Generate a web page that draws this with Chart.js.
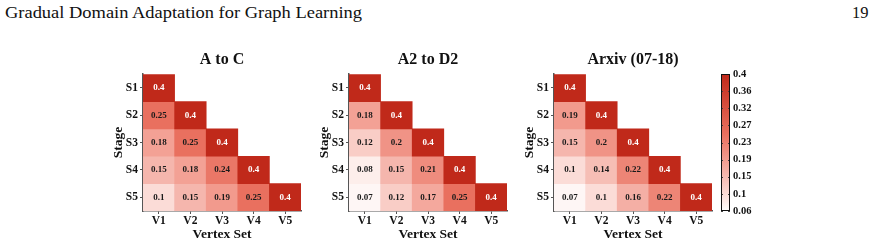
<!DOCTYPE html>
<html>
<head>
<meta charset="utf-8">
<script src="https://cdn.jsdelivr.net/npm/chart.js@4.4.0/dist/chart.umd.min.js"></script>
<style>
  html, body { margin: 0; padding: 0; background: #fff; }
  body { width: 869px; height: 246px; position: relative; overflow: hidden; font-family: 'Liberation Serif', 'Times New Roman', serif; }
  .box { position: absolute; top: 40px; width: 244px; height: 206px; }
  #header { position: absolute; left: 5px; top: 3px; font-size: 16.5px; color: #111; white-space: nowrap; transform-origin: 0 0; }
  #page { position: absolute; left: 852px; top: 3px; font-size: 16.5px; color: #111; }
</style>
</head>
<body>
<div id="header">Gradual Domain Adaptation for Graph Learning</div>
<div id="page">19</div>
<div class="box" style="left:100px"><canvas id="c1"></canvas></div>
<div class="box" style="left:306px"><canvas id="c2"></canvas></div>
<div class="box" style="left:511px"><canvas id="c3"></canvas></div>
<div style="position:absolute;left:700px;top:40px;width:169px;height:206px"><canvas id="cb"></canvas></div>
<script>
// 数据
const stages = ['S1', 'S2', 'S3', 'S4', 'S5'];
const vertexSets = ['V1', 'V2', 'V3', 'V4', 'V5'];

// 下三角矩阵, 每行一个 stage
const aToC = [
  [0.4],
  [0.25, 0.4],
  [0.18, 0.25, 0.4],
  [0.15, 0.18, 0.24, 0.4],
  [0.1, 0.15, 0.19, 0.25, 0.4]
];
const a2ToD2 = [
  [0.4],
  [0.18, 0.4],
  [0.12, 0.2, 0.4],
  [0.08, 0.15, 0.21, 0.4],
  [0.07, 0.12, 0.17, 0.25, 0.4]
];
const arxiv = [
  [0.4],
  [0.19, 0.4],
  [0.15, 0.2, 0.4],
  [0.1, 0.14, 0.22, 0.4],
  [0.07, 0.1, 0.16, 0.22, 0.4]
];

const cbMin = 0.06;
const cbMax = 0.4;
// 色条刻度文字 (刻度在 min..max 之间等距)
const cbTickLabels = ['0.06', '0.1', '0.15', '0.19', '0.23', '0.27', '0.32', '0.36', '0.4'];

// 颜色刻度 (value -> color)
const colorStops = [
  [0.06, '#ffffff'],
  [0.1, '#fbdcd7'],
  [0.15, '#f5b6ad'],
  [0.18, '#f3a195'],
  [0.25, '#e9705f'],
  [0.4, '#c0291a']
];

Chart.defaults.font.family = "'Liberation Serif', 'Times New Roman', serif";
Chart.defaults.color = '#111';

function hexToRgb(h) {
  return [1, 3, 5].map(i => parseInt(h.slice(i, i + 2), 16));
}

function valueColor(v) {
  for (let k = 1; k < colorStops.length; k++) {
    const [v0, c0] = colorStops[k - 1];
    const [v1, c1] = colorStops[k];
    if (v <= v1 || k === colorStops.length - 1) {
      const t = Math.max(0, Math.min(1, (v - v0) / (v1 - v0)));
      const a = hexToRgb(c0), b = hexToRgb(c1);
      const rgb = a.map((x, i) => Math.round(x + (b[i] - x) * t));
      return `rgb(${rgb.join(',')})`;
    }
  }
}

// 单元格数值
const cellLabels = {
  id: 'cellLabels',
  afterDatasetsDraw(chart) {
    const ctx = chart.ctx;
    ctx.save();
    ctx.font = "bold 9px 'Liberation Serif'";
    ctx.textAlign = 'center';
    ctx.textBaseline = 'middle';
    chart.data.datasets.forEach((ds, i) => {
      const meta = chart.getDatasetMeta(i);
      meta.data.forEach((bar, j) => {
        const v = ds.values[j];
        if (v == null) return;
        ctx.fillStyle = v >= 0.35 ? '#ffffff' : '#1a1a1a';
        ctx.fillText(String(v), bar.x, (bar.y + bar.base) / 2);
      });
    });
    ctx.restore();
  }
};

function createHeatmap(id, title, rows) {
  const datasets = stages.map((s, i) => ({
    label: s,
    data: vertexSets.map((v, j) => (j <= i ? [i, i + 1] : null)),
    values: vertexSets.map((v, j) => (j <= i ? rows[i][j] : null)),
    backgroundColor: vertexSets.map((v, j) => (j <= i ? valueColor(rows[i][j]) : 'rgba(0,0,0,0)')),
    borderWidth: 0,
    barPercentage: 1,
    categoryPercentage: 1
  }));

  return new Chart(document.getElementById(id), {
    type: 'bar',
    data: { labels: vertexSets, datasets },
    options: {
      animation: false,
      responsive: true,
      maintainAspectRatio: false,
      layout: { padding: 0 },
      plugins: {
        legend: { display: false },
        tooltip: { enabled: false },
        title: {
          display: true,
          text: title,
          font: { size: 16, weight: 'bold' },
          color: '#111',
          padding: { top: 10, bottom: 5 }
        }
      },
      scales: {
        x: {
          type: 'category',
          stacked: true,
          offset: true,
          grid: { offset: false, drawOnChartArea: false, tickLength: 3, color: '#555' },
          border: { display: true, color: '#555', width: 1.5 },
          ticks: { font: { size: 11.5, weight: 'bold' }, color: '#111', padding: 0, maxRotation: 0 },
          title: {
            display: true,
            text: 'Vertex Set',
            font: { size: 13.5, weight: 'bold' },
            color: '#111',
            padding: { top: 0, bottom: 3 }
          },
          afterFit(axis) { axis.height = 35; }
        },
        y: {
          type: 'linear',
          min: 0,
          max: 5,
          reverse: true,
          stacked: false,
          afterBuildTicks(axis) {
            axis.ticks = stages.map((s, i) => ({ value: i + 0.5 }));
          },
          ticks: {
            callback: v => stages[Math.floor(v)],
            font: { size: 11.5, weight: 'bold' },
            color: '#111',
            padding: 2
          },
          grid: { drawOnChartArea: false, tickLength: 3, color: '#555' },
          border: { display: true, color: '#555', width: 1.5 },
          title: {
            display: true,
            text: 'Stage',
            font: { size: 13.5, weight: 'bold' },
            color: '#111',
            padding: { top: 10, bottom: 0 }
          },
          afterFit(axis) { axis.width = 43; }
        },
        // 右侧空白轴, 让标题居中于绘图区
        yPad: {
          type: 'linear',
          position: 'right',
          display: true,
          grid: { display: false, drawTicks: false },
          border: { display: false },
          ticks: { display: false },
          afterFit(axis) { axis.width = 43; }
        }
      }
    },
    plugins: [cellLabels]
  });
}

createHeatmap('c1', 'A to C', aToC);
createHeatmap('c2', 'A2 to D2', a2ToD2);
createHeatmap('c3', 'Arxiv (07-18)', arxiv);

// 色条
function gradientFill(context) {
  const chart = context.chart;
  const { chartArea, scales } = chart;
  if (!chartArea) return null;
  const y0 = scales.y.getPixelForValue(cbMin);
  const y1 = scales.y.getPixelForValue(cbMax);
  const g = chart.ctx.createLinearGradient(0, y0, 0, y1);
  colorStops.forEach(([v, c]) => g.addColorStop((v - cbMin) / (cbMax - cbMin), c));
  return g;
}

const colorbarFrame = {
  id: 'colorbarFrame',
  afterDatasetsDraw(chart) {
    const { ctx, chartArea, scales } = chart;
    ctx.save();
    ctx.strokeStyle = '#444';
    ctx.lineWidth = 1;
    scales.y.ticks.forEach(t => {
      const y = Math.round(scales.y.getPixelForValue(t.value)) + 0.5;
      ctx.beginPath();
      ctx.moveTo(chartArea.left, y);
      ctx.lineTo(chartArea.left + 2, y);
      ctx.moveTo(chartArea.right - 2, y);
      ctx.lineTo(chartArea.right, y);
      ctx.stroke();
    });
    ctx.strokeStyle = '#111';
    ctx.strokeRect(chartArea.left + 0.5, chartArea.top + 0.5,
      chartArea.right - chartArea.left - 1, chartArea.bottom - chartArea.top - 1);
    ctx.restore();
  }
};

new Chart(document.getElementById('cb'), {
  type: 'bar',
  data: {
    labels: [''],
    datasets: [{
      data: [[cbMin, cbMax]],
      backgroundColor: gradientFill,
      borderWidth: 0,
      barPercentage: 1,
      categoryPercentage: 1
    }]
  },
  options: {
    animation: false,
    responsive: true,
    maintainAspectRatio: false,
    layout: { padding: { left: 21, right: 0, top: 34, bottom: 35 } },
    plugins: { legend: { display: false }, tooltip: { enabled: false } },
    scales: {
      x: { display: false },
      y: {
        position: 'right',
        min: cbMin,
        max: cbMax,
        afterBuildTicks(axis) {
          const n = cbTickLabels.length - 1;
          axis.ticks = cbTickLabels.map((s, k) => ({ value: cbMin + (cbMax - cbMin) * k / n }));
        },
        ticks: {
          callback: (v, i) => cbTickLabels[i],
          font: { size: 10.5, weight: 'bold' },
          color: '#111',
          padding: 3
        },
        grid: { display: false, drawTicks: false },
        border: { display: false },
        afterFit(axis) { axis.width = 139; }
      }
    }
  },
  plugins: [colorbarFrame]
});

// 页眉宽度对齐
const header = document.getElementById('header');
const hw = header.getBoundingClientRect().width;
header.style.transform = `scaleX(${357 / hw})`;
</script>
</body>
</html>
